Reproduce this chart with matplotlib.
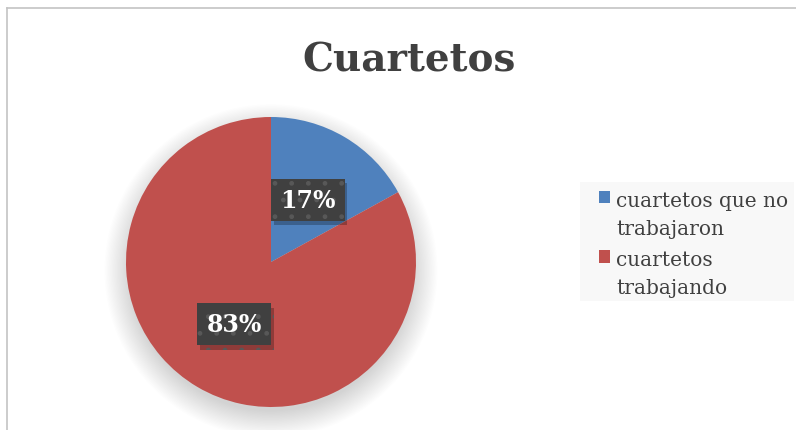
import matplotlib.pyplot as plt
from matplotlib.patches import Circle, Rectangle
from matplotlib.lines import Line2D
import matplotlib.patheffects as pe

labels = ["cuartetos que no\ntrabajaron", "cuartetos\ntrabajando"]
values = [17, 83]
colors = ["#4f81bd", "#c0504d"]

W, H = 796, 431
fig = plt.figure(figsize=(W / 100, H / 100), dpi=100)
fig.patch.set_facecolor("white")

# chart frame (top and left border visible)
fig.add_artist(Line2D([7 / W, 1], [(H - 9) / H] * 2, color="#c4c4c4", lw=1.2))
fig.add_artist(Line2D([7 / W] * 2, [0, (H - 9) / H], color="#c4c4c4", lw=1.2))

# pie axes, center (271, 263) px, radius 145 px
cx, cy, r = 271, 263, 145
pad = 1.3
ax = fig.add_axes([(cx - r * pad) / W, (H - cy - r * pad) / H, 2 * r * pad / W, 2 * r * pad / H])

wedges, texts, autotexts = ax.pie(
    values, colors=colors, startangle=90, counterclock=False, radius=1,
    autopct=lambda p: f"{p:.0f}%", pctdistance=0.5,
    wedgeprops=dict(linewidth=0),
    textprops=dict(color="white", fontsize=17, fontweight="bold", family="DejaVu Serif"),
)
ax.set_xlim(-pad, pad)
ax.set_ylim(-pad, pad)
ax.set_aspect("equal")
ax.axis("off")

# soft shadow under the pie
for i in range(22):
    ax.add_patch(Circle((0, -0.06), 0.97 + 0.0085 * i, color="black", alpha=0.007, lw=0, zorder=0))

for t in autotexts:
    t.set_zorder(5)
    t.set_bbox(dict(boxstyle="square,pad=0.38", facecolor="#404040", edgecolor="#585858",
                    linewidth=0, hatch="."))
    t.get_bbox_patch().set_path_effects([
        pe.SimplePatchShadow(offset=(2, -3), shadow_rgbFace="black", alpha=0.25), pe.Normal()])

fig.text(409 / W, (H - 60) / H, "Cuartetos", ha="center", va="center",
         fontsize=28, fontweight="bold", color="#404040", family="DejaVu Serif")

# legend
fig.add_artist(Rectangle((580 / W, (H - 302) / H), 214 / W, 119 / H,
                         facecolor="#f8f8f8", edgecolor="none"))
leg = fig.legend(wedges, labels, loc="upper left", bbox_to_anchor=(599 / W, (H - 192) / H),
                 frameon=False, prop=dict(family="DejaVu Serif", size=14.5),
                 handlelength=0.55, handleheight=0.55, handletextpad=0.3, labelspacing=0.62,
                 borderpad=0, borderaxespad=0)
for t in leg.get_texts():
    t.set_color("#404040")
    t.set_linespacing(1.6)
# put the colour squares next to the first line of each label
for col in leg._legend_handle_box.get_children():
    for row in col.get_children():
        row.align = "top"

fig.savefig("out.png", dpi=100)
